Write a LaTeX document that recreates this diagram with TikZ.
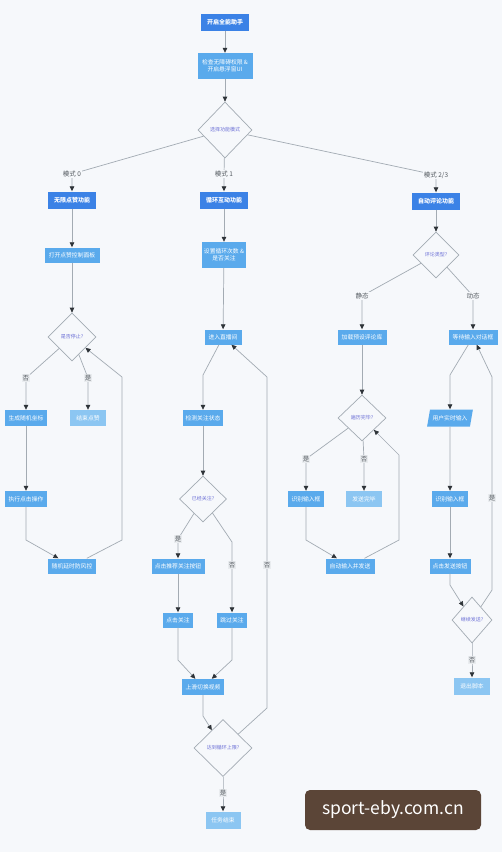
\documentclass[tikz,border=0pt]{standalone}
\usepackage{fontspec}
\setmainfont{Noto Sans CJK SC}
\usetikzlibrary{shapes.geometric,arrows.meta}
\definecolor{bg}{HTML}{F6F8FB}
\definecolor{fnblue}{HTML}{3B82E6}
\definecolor{stepblue}{HTML}{5AAAEC}
\definecolor{endblue}{HTML}{8CC6F2}
\definecolor{edgegray}{HTML}{A3ABB3}
\definecolor{tipdark}{HTML}{2E3338}
\definecolor{decfont}{HTML}{6B6FD6}
\definecolor{lblgray}{HTML}{555B61}
\definecolor{lblfill}{HTML}{E9ECEF}
\definecolor{markbrown}{HTML}{5B4537}
\begin{document}
\begin{tikzpicture}[x=1pt,y=-1pt,
  fn/.style={rectangle,fill=fnblue,text=white,font=\fontsize{6}{7}\selectfont\bfseries,minimum height=17pt,inner xsep=3pt},
  stepbox/.style={rectangle,fill=stepblue,text=white,font=\fontsize{5.8}{7}\selectfont,minimum height=15pt,inner xsep=2pt,inner ysep=1pt,align=center},
  endbox/.style={stepbox,fill=endblue,minimum height=16pt},
  dec/.style={diamond,draw=edgegray,line width=0.7pt,fill=bg,text=decfont,font=\fontsize{5}{6}\selectfont,inner sep=0pt},
  io/.style={trapezium,trapezium left angle=70,trapezium right angle=110,trapezium stretches=true,fill=stepblue,text=white,font=\fontsize{5.8}{7}\selectfont,inner sep=1pt},
  lbl/.style={fill=bg,text=lblgray,font=\fontsize{6.5}{7}\selectfont,inner sep=1pt},
  yn/.style={lbl,fill=lblfill},
  arr/.style={draw=edgegray,line width=0.7pt,-{Triangle[length=5pt,width=4.5pt,color=tipdark]}}]
  \fill[bg] (0,0) rectangle (502,852);
  \useasboundingbox (0,0) rectangle (502,852);
  \node[fn,minimum width=48pt] (start) at (225,22) {开启全能助手};
  \node[stepbox,minimum width=55pt,minimum height=26pt] (check) at (225,66) {检查无障碍权限 \&\\开启悬浮窗UI};
  \node[dec,minimum width=54pt,minimum height=56pt] (mode) at (225,130) {选择功能模式};
  \node[fn,minimum width=48pt] (m0) at (72,200) {无限点赞功能};
  \node[fn,minimum width=48pt] (m1) at (224,200) {循环互动功能};
  \node[fn,minimum width=48pt] (m2) at (436,201) {自动评论功能};
  \node[stepbox,minimum width=55pt] (a1) at (72,255) {打开点赞控制面板};
  \node[dec,minimum width=48pt,minimum height=48pt] (a2) at (72,337) {是否停止?};
  \node[stepbox,minimum width=42pt,minimum height=16pt] (a3) at (26,418) {生成随机坐标};
  \node[endbox,minimum width=36pt] (a4) at (88,418) {结束点赞};
  \node[stepbox,minimum width=42pt,minimum height=16pt] (a5) at (26,499) {执行点击操作};
  \node[stepbox,minimum width=48pt] (a6) at (72,566) {随机延时防风控};
  \node[stepbox,minimum width=43pt,minimum height=26pt] (b1) at (224,255) {设置循环次数 \&\\是否关注};
  \node[stepbox,minimum width=37pt] (b2) at (223,337) {进入直播间};
  \node[stepbox,minimum width=40pt,minimum height=16pt] (b3) at (203,418) {检测关注状态};
  \node[dec,minimum width=47pt,minimum height=46pt] (b4) at (203,499) {已经关注?};
  \node[stepbox,minimum width=53pt] (b5) at (178,566) {点击推荐关注按钮};
  \node[stepbox,minimum width=30pt] (b6) at (178,620) {点击关注};
  \node[stepbox,minimum width=30pt] (b7) at (232,620) {跳过关注};
  \node[stepbox,minimum width=42pt,minimum height=16pt] (b8) at (203,687) {上滑切换视频};
  \node[dec,minimum width=58pt,minimum height=57pt] (b9) at (223,748) {达到循环上限?};
  \node[endbox,minimum width=35pt,minimum height=17pt] (b10) at (223,820) {任务结束};
  \node[dec,minimum width=46pt,minimum height=46pt] (c1) at (436,255) {评论类型?};
  \node[stepbox,minimum width=49pt] (c2) at (362,337) {加载预设评论库};
  \node[dec,minimum width=48pt,minimum height=46pt] (c3) at (362,418) {遍历完毕?};
  \node[stepbox,minimum width=36pt,minimum height=16pt] (c4) at (306,499) {识别输入框};
  \node[endbox,minimum width=36pt] (c5) at (364,499) {发送完毕};
  \node[stepbox,minimum width=49pt] (c6) at (350,566) {自动输入并发送};
  \node[stepbox,minimum width=49pt] (d1) at (473,337) {等待输入对话框};
  \node[io,minimum width=46pt,minimum height=17pt] (d2) at (450,418) {用户实时输入};
  \node[stepbox,minimum width=36pt,minimum height=16pt] (d3) at (450,499) {识别输入框};
  \node[stepbox,minimum width=41pt] (d4) at (450,566) {点击发送按钮};
  \node[dec,minimum width=40pt,minimum height=46pt] (d5) at (472,620) {继续发送?};
  \node[endbox,minimum width=36pt,minimum height=17pt] (d6) at (472,686) {退出脚本};
  \node[fill=markbrown,rounded corners=5pt,text=white,font=\fontsize{17.5}{19}\selectfont,minimum width=176pt,minimum height=40pt] (mark) at (393,810) {sport-eby.com.cn};
  \draw[arr] (start) -- (check);
  \draw[arr] (check) -- (mode);
  \draw[arr] (mode) -- (72,174) node[lbl]{模式 0} -- (m0);
  \draw[arr] (mode) -- (224,174) node[lbl]{模式 1} -- (m1);
  \draw[arr] (mode) -- (436,175) node[lbl]{模式 2/3} -- (m2);
  \draw[arr] (m0) -- (a1);
  \draw[arr] (a1) -- (a2);
  \draw[arr] (a2) -- (26,378) node[yn]{否} -- (a3);
  \draw[arr] (a2) -- (88,378) node[yn]{是} -- (a4);
  \draw[arr] (a3) -- (a5);
  \draw[arr] (a5) -- (26,540) -- (a6);
  \draw[arr] (a6) -- (122,540) -- (122,377) -- (a2);
  \draw[arr] (m1) -- (b1);
  \draw[arr] (b1) -- (b2);
  \draw[arr] (b2) -- (203,375) -- (b3);
  \draw[arr] (b3) -- (b4);
  \draw[arr] (b4) -- (178,539) node[yn]{是} -- (b5);
  \draw[arr] (b4) -- (232,542) -- (232,565) node[yn]{否} -- (b7);
  \draw[arr] (b5) -- (b6);
  \draw[arr] (b6) -- (178,660) -- (b8);
  \draw[arr] (b7) -- (232,660) -- (b8);
  \draw[arr] (b8) -- (203,716) -- (b9);
  \draw[arr] (b9) -- (267,708) -- (267,565) node[yn]{否} -- (267,377) -- (b2);
  \draw[arr] (b9) -- (223,793) node[yn]{是} -- (b10);
  \draw[arr] (m2) -- (c1);
  \draw[arr] (c1) -- (362,296) node[lbl]{静态} -- (c2);
  \draw[arr] (c1) -- (473,296) node[lbl]{动态} -- (d1);
  \draw[arr] (c2) -- (c3);
  \draw[arr] (c3) -- (306,459) node[yn]{是} -- (c4);
  \draw[arr] (c3) -- (364,459) node[yn]{否} -- (c5);
  \draw[arr] (c4) -- (306,540) -- (c6);
  \draw[arr] (c6) -- (399,540) -- (399,455) -- (c3);
  \draw[arr] (d1) -- (450,375) -- (d2);
  \draw[arr] (d2) -- (d3);
  \draw[arr] (d3) -- (d4);
  \draw[arr] (d4) -- (450,585) -- (d5);
  \draw[arr] (d5) -- (492,590) -- (492,498) node[yn]{是} -- (492,377) -- (d1);
  \draw[arr] (d5) -- (472,660) node[yn]{否} -- (d6);
\end{tikzpicture}
\end{document}
